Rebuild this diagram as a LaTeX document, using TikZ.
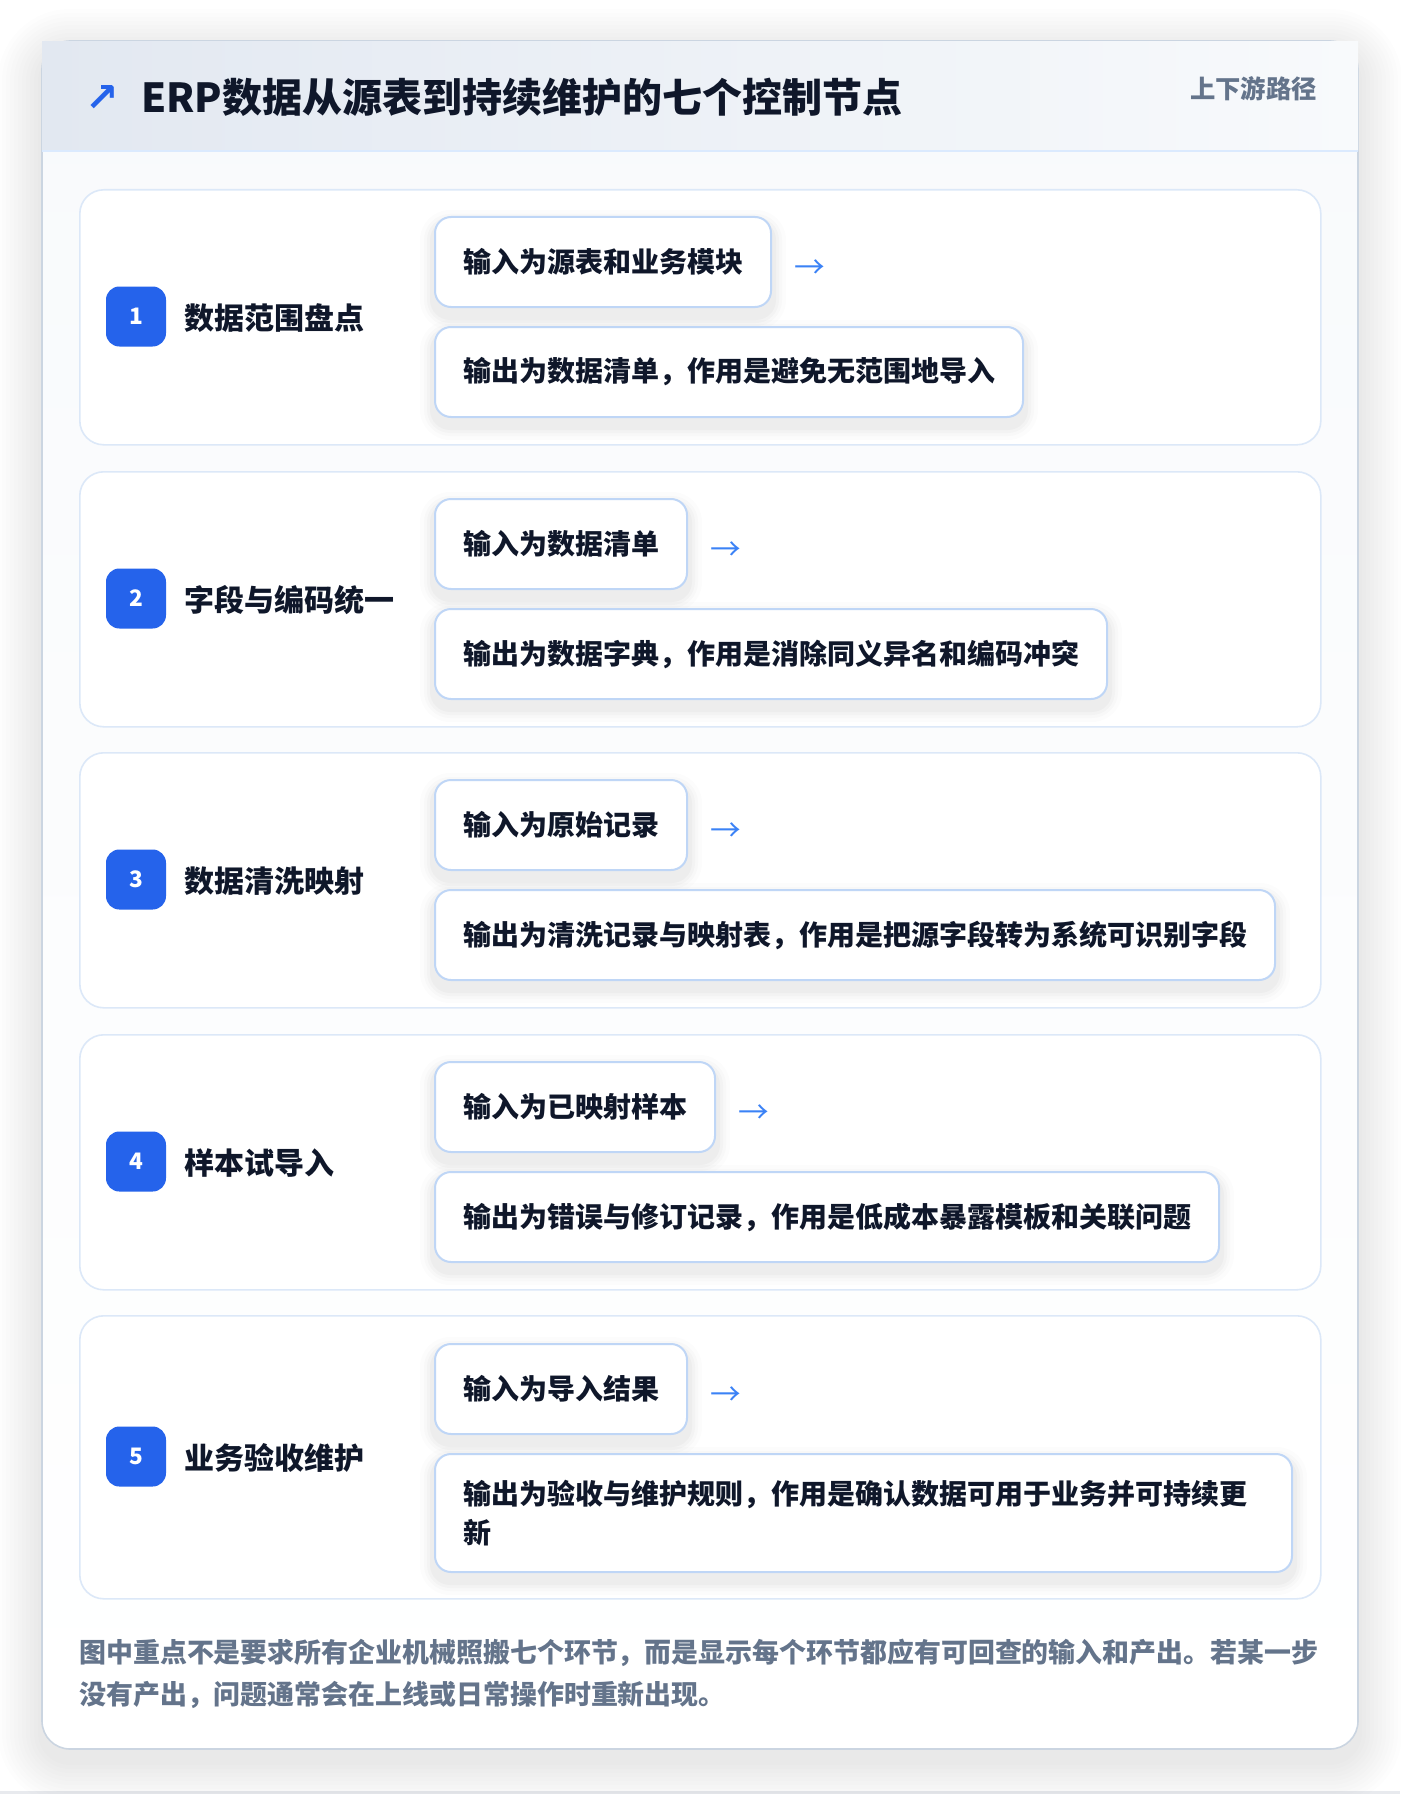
\documentclass[tikz,border=0pt]{standalone}
\usepackage{fontspec}
\setmainfont{Noto Sans CJK SC}
\newfontfamily\symfont{DejaVu Sans}
\usetikzlibrary{calc}
\definecolor{ink}{HTML}{0F172A}
\definecolor{muted}{HTML}{64748B}
\definecolor{badge}{HTML}{2563EB}
\definecolor{arrowc}{HTML}{3B82F6}
\definecolor{cardline}{HTML}{DCE8F8}
\definecolor{boxline}{HTML}{BFD6F6}
\definecolor{outerline}{HTML}{CBD5E1}
\definecolor{hdrL}{HTML}{E2E8F1}
\definecolor{hdrR}{HTML}{F8FAFC}
\definecolor{panel}{HTML}{F8FAFC}
\definecolor{divider}{HTML}{DBEAFE}
\definecolor{edgegrey}{HTML}{E8EAEE}
\pgfdeclarelayer{l0}\pgfdeclarelayer{l1}\pgfdeclarelayer{l2}
\pgfsetlayers{l0,l1,l2,main}
\newcommand\mkshadow[1]{%
  \begin{pgfonlayer}{l2}
    \foreach \s/\o/\r in {14/0.010/22.5, 10/0.014/19.5, 7/0.018/17.25, 4/0.022/15}{
      \fill[black, opacity=\o, rounded corners=\r pt]
        ($(#1.north west)+(-\s,-\s+8)$) rectangle ($(#1.south east)+(\s,\s+8)$);
    }
  \end{pgfonlayer}}
\tikzset{
  stepcard/.style={draw=cardline, line width=1.2pt, fill=white, rounded corners=18pt,
    anchor=north west, inner sep=0pt, minimum width=930.75pt, minimum height=191.25pt},
  iobox/.style={draw=boxline, line width=1.5pt, fill=white, rounded corners=12pt,
    anchor=north west, inner xsep=21pt, inner ysep=0pt, minimum height=67.5pt,
    font=\fontsize{21pt}{29.25pt}\selectfont\bfseries, text=ink, align=left},
  stepno/.style={fill=badge, rounded corners=10pt, minimum size=45pt, inner sep=0pt,
    text=white, font=\fontsize{17pt}{17pt}\selectfont\bfseries},
  steplabel/.style={anchor=west, inner sep=0pt, text=ink,
    font=\fontsize{22.5pt}{27pt}\selectfont\bfseries},
  flowarrow/.style={anchor=west, inner sep=0pt, text=arrowc,
    font=\fontsize{23pt}{23pt}\selectfont},
}
\begin{document}
\begin{tikzpicture}[x=0.75pt, y=-0.75pt]
\useasboundingbox (0,0) rectangle (1400,1794);
\begin{pgfonlayer}{l0}
  \fill[white] (0,0) rectangle (1400,1794);
  \fill[edgegrey] (0,1791) rectangle (1400,1794);
  \foreach \s in {4,8,...,44}{
    \pgfmathsetmacro\r{21+0.75*\s}
    \fill[black, opacity=0.008, rounded corners=\r pt] (42-\s,41-\s+12) rectangle (1358+\s,1749+\s+12);
  }
  \shade[top color=panel, bottom color=white, rounded corners=21pt]
    (42,41) rectangle (1358,1749);
  \draw[outerline, line width=1.2pt, rounded corners=21pt] (42,41) rectangle (1358,1749);
  \shade[left color=hdrL, right color=hdrR] (42,42) rectangle (1358,151);
  \draw[divider, line width=1.5pt] (42,151) -- (1358,151);
\end{pgfonlayer}

% header
\node[text=badge, font=\symfont\bfseries\fontsize{30pt}{30pt}\selectfont, inner sep=0pt] (icon) at (102,99) {↗};
\node[anchor=west, inner sep=0pt, text=ink, font=\fontsize{30pt}{36pt}\selectfont\bfseries] (title) at (141,97)
  {ERP数据从源表到持续维护的七个控制节点};
\node[anchor=east, inner sep=0pt, text=muted, font=\fontsize{19pt}{22pt}\selectfont\bfseries] (tag) at (1317,89)
  {上下游路径};

% step cards
\begin{pgfonlayer}{l1}
  \node[stepcard] (c1) at (79,189) {};
  \node[stepcard] (c2) at (79,471) {};
  \node[stepcard] (c3) at (79,752) {};
  \node[stepcard] (c4) at (79,1034) {};
  \node[stepcard, minimum height=212.25pt] (c5) at (79,1315) {};
\end{pgfonlayer}

% step 1
\node[stepno] (n1) at (136,316.5) {1};
\node[steplabel] (l1) at (184,318) {数据范围盘点};
\node[iobox] (i1) at (434,216) {输入为源表和业务模块};
\node[iobox] (o1) at (434,326) {输出为数据清单，作用是避免无范围地导入};
\node[flowarrow] (a1) at ($(i1.east)+(22,7)$) {→};
\mkshadow{i1}\mkshadow{o1}

% step 2
\node[stepno] (n2) at (136,598.5) {2};
\node[steplabel] (l2) at (184,600) {字段与编码统一};
\node[iobox] (i2) at (434,498) {输入为数据清单};
\node[iobox] (o2) at (434,608) {输出为数据字典，作用是消除同义异名和编码冲突};
\node[flowarrow] (a2) at ($(i2.east)+(22,7)$) {→};
\mkshadow{i2}\mkshadow{o2}

% step 3
\node[stepno] (n3) at (136,879.5) {3};
\node[steplabel] (l3) at (184,881) {数据清洗映射};
\node[iobox] (i3) at (434,779) {输入为原始记录};
\node[iobox] (o3) at (434,889) {输出为清洗记录与映射表，作用是把源字段转为系统可识别字段};
\node[flowarrow] (a3) at ($(i3.east)+(22,7)$) {→};
\mkshadow{i3}\mkshadow{o3}

% step 4
\node[stepno] (n4) at (136,1161.5) {4};
\node[steplabel] (l4) at (184,1163) {样本试导入};
\node[iobox] (i4) at (434,1061) {输入为已映射样本};
\node[iobox] (o4) at (434,1171) {输出为错误与修订记录，作用是低成本暴露模板和关联问题};
\node[flowarrow] (a4) at ($(i4.east)+(22,7)$) {→};
\mkshadow{i4}\mkshadow{o4}

% step 5
\node[stepno] (n5) at (136,1456.5) {5};
\node[steplabel] (l5) at (184,1458) {业务验收维护};
\node[iobox] (i5) at (434,1343) {输入为导入结果};
\node[iobox, text width=600.75pt, minimum height=88.5pt] (o5) at (434,1453)
  {输出为验收与维护规则，作用是确认数据可用于业务并可持续更\\新};
\node[flowarrow] (a5) at ($(i5.east)+(22,7)$) {→};
\mkshadow{i5}\mkshadow{o5}

% footer
\node[anchor=west, inner sep=0pt, align=left, text=muted,
  font=\fontsize{20.2pt}{31.5pt}\selectfont\bfseries] (foot) at (79,1674)
  {图中重点不是要求所有企业机械照搬七个环节，而是显示每个环节都应有可回查的输入和产出。若某一步\\
   没有产出，问题通常会在上线或日常操作时重新出现。};
\end{tikzpicture}
\end{document}
